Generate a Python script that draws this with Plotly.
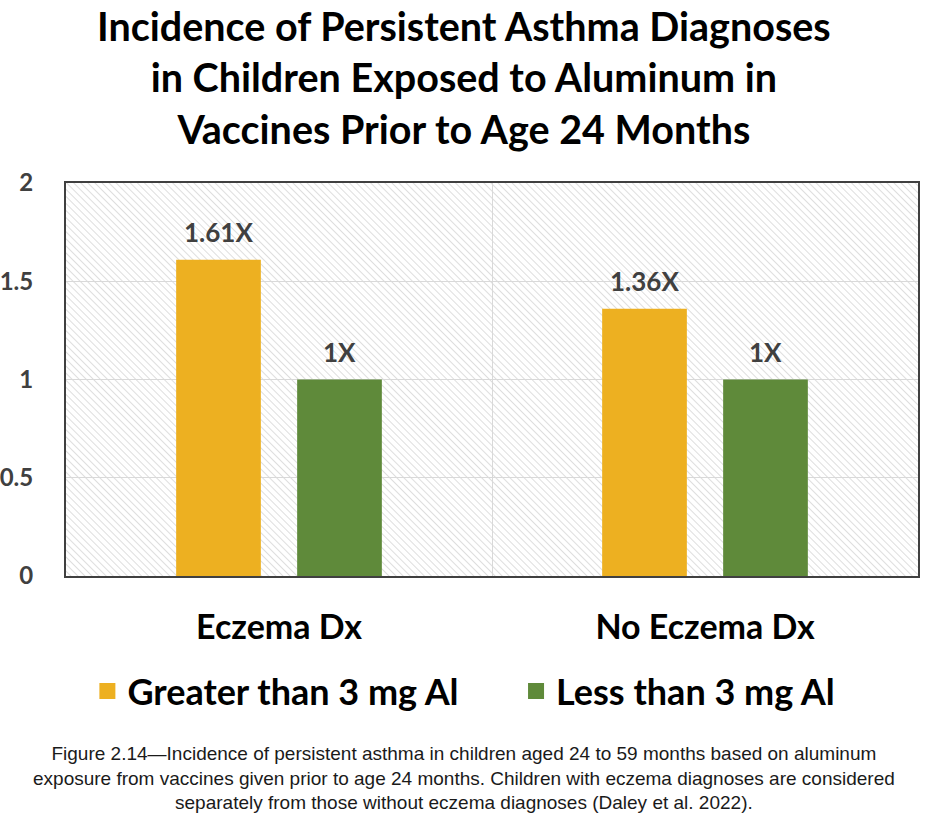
import base64
import plotly.graph_objects as go

categories = ["Eczema Dx", "No Eczema Dx"]
series_names = ["Greater than 3 mg Al", "Less than 3 mg Al"]
greater_vals = [1.61, 1.36]
less_vals = [1.0, 1.0]
value_labels_greater = ["1.61X", "1.36X"]
value_labels_less = ["1X", "1X"]
y_ticks = [0, 0.5, 1, 1.5, 2]
y_tick_text = ["0", "0.5", "1", "1.5", "2"]

GOLD = "#EDB021"
GREEN = "#5F8A3A"

title_text = ("Incidence of Persistent Asthma Diagnoses<br>"
              "in Children Exposed to Aluminum in<br>"
              "Vaccines Prior to Age 24 Months")
caption_text = ("Figure 2.14\u2014Incidence of persistent asthma in children aged 24 to 59 months based on aluminum<br>"
                "exposure from vaccines given prior to age 24 months. Children with eczema diagnoses are considered<br>"
                "separately from those without eczema diagnoses (Daley et al. 2022).")

PAGE_CENTER = 0.467  # page centre in plot-area paper units

fig = go.Figure()
fig.add_trace(go.Bar(name=series_names[0], x=categories, y=greater_vals, showlegend=False,
                     legendgroup="g", marker=dict(color=GOLD, line=dict(width=0))))
fig.add_trace(go.Bar(name=series_names[1], x=categories, y=less_vals, showlegend=False,
                     legendgroup="l", marker=dict(color=GREEN, line=dict(width=0))))
# legend entries (larger square symbols)
fig.add_trace(go.Scatter(name=series_names[0] + "\u00a0" * 6, x=categories, y=[None] * len(categories),
                         mode="markers", legendgroup="g", hoverinfo="skip",
                         marker=dict(symbol="square", size=24, color=GOLD)))
fig.add_trace(go.Scatter(name=series_names[1], x=categories, y=[None] * len(categories),
                         mode="markers", legendgroup="l", hoverinfo="skip",
                         marker=dict(symbol="square", size=24, color=GREEN)))

# hatched plot background
svg = ('<svg xmlns="http://www.w3.org/2000/svg" width="852" height="393">'
       '<defs><pattern id="p" width="5" height="5" patternUnits="userSpaceOnUse" patternTransform="rotate(-45)">'
       '<line x1="0" y1="0" x2="0" y2="5" stroke="#d8d8d8" stroke-width="1.7"/></pattern></defs>'
       '<rect width="100%" height="100%" fill="#ffffff"/>'
       '<rect width="100%" height="100%" fill="url(#p)"/></svg>')
src = "data:image/svg+xml;base64," + base64.b64encode(svg.encode()).decode()

annotations = []
slot_shift = 60.5
for vals, labels, sgn in ((greater_vals, value_labels_greater, -1), (less_vals, value_labels_less, 1)):
    for c, v, t in zip(categories, vals, labels):
        annotations.append(dict(x=c, y=v, text=t, xref="x", yref="y", showarrow=False,
                                xshift=sgn * slot_shift, yanchor="bottom", yshift=10,
                                font=dict(family="Lato", size=26, color="#404040", weight="bold")))
annotations.append(dict(x=PAGE_CENTER, y=1.2697, xref="paper", yref="paper", xanchor="center", yanchor="middle",
                        text=title_text, showarrow=False, align="center", borderpad=0,
                        font=dict(family="Lato", size=39.5, color="#000000", weight="bold")))
annotations.append(dict(x=PAGE_CENTER, y=-0.514, xref="paper", yref="paper", xanchor="center", yanchor="middle",
                        text=caption_text, showarrow=False, align="center",
                        font=dict(family="Liberation Sans", size=19, color="#1a1a1a")))

fig.update_layout(
    width=928, height=824,
    margin=dict(l=66, r=10, t=183, b=248),
    paper_bgcolor="white",
    plot_bgcolor="rgba(0,0,0,0)",
    barmode="group", bargap=0.432, bargroupgap=0.30,
    showlegend=True,
    legend=dict(orientation="h", x=PAGE_CENTER, xanchor="center", y=-0.293, yanchor="middle",
                font=dict(family="Lato", size=36, color="#000000", weight="bold"),
                bgcolor="rgba(0,0,0,0)"),
    images=[dict(source=src, xref="paper", yref="paper", x=0, y=1, sizex=1, sizey=1,
                 xanchor="left", yanchor="top", sizing="stretch", layer="below")],
    annotations=annotations,
)
fig.update_xaxes(showline=True, mirror=True, linecolor="#404040", linewidth=2,
                 showgrid=True, gridcolor="#d9d9d9", tickson="boundaries", ticks="",
                 ticklabelstandoff=20, automargin=False,
                 tickfont=dict(family="Lato", size=34, color="#000000", weight="bold"))
fig.update_yaxes(range=[0, 2], tickvals=y_ticks, ticktext=y_tick_text,
                 showline=True, mirror=True, linecolor="#404040", linewidth=2,
                 showgrid=True, gridcolor="#d9d9d9", zeroline=False, ticks="",
                 ticklabelstandoff=26, automargin=False,
                 tickfont=dict(family="Lato", size=24, color="#404040", weight="bold"))

fig.write_html("out.html")
